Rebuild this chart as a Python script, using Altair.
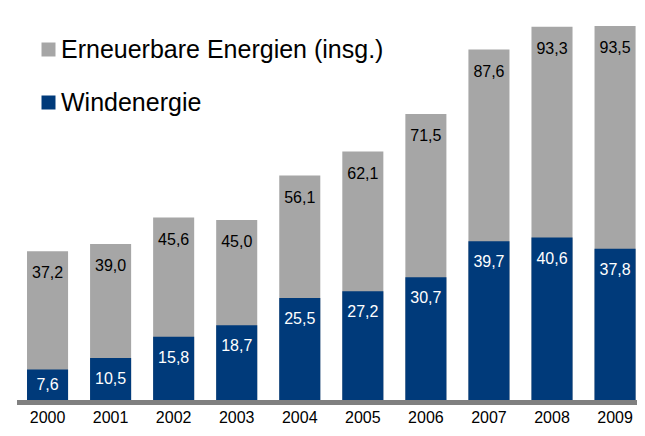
import altair as alt
import pandas as pd

years = ["2000", "2001", "2002", "2003", "2004", "2005", "2006", "2007", "2008", "2009"]
erneuerbare = [37.2, 39.0, 45.6, 45.0, 56.1, 62.1, 71.5, 87.6, 93.3, 93.5]
wind = [7.6, 10.5, 15.8, 18.7, 25.5, 27.2, 30.7, 39.7, 40.6, 37.8]
series_names = ["Erneuerbare Energien (insg.)", "Windenergie"]
series_colors = ["#a6a6a6", "#003a7a"]

rows = []
for name, vals in zip(series_names, [erneuerbare, wind]):
    for y, v in zip(years, vals):
        rows.append({"year": y, "series": name, "value": v,
                     "label": f"{v:.1f}".replace(".", ",")})
df = pd.DataFrame(rows)

FONT = "Liberation Sans"

x_scale = alt.Scale(paddingInner=0.349, paddingOuter=0.17, range=[8.3, 638.3])
x_enc = alt.X("year:O", scale=x_scale,
              axis=alt.Axis(title=None, domain=False, ticks=False, labelAngle=0,
                            labelFontSize=16, labelPadding=9, labelFont=FONT,
                            labelColor="black"))
y_scale = alt.Scale(domain=[0, 98], nice=False, zero=True)

base = alt.Chart(df)

bars = base.mark_bar().encode(
    x=x_enc,
    y=alt.Y("value:Q", scale=y_scale, axis=None, stack=None),
    color=alt.Color("series:N",
                    scale=alt.Scale(domain=series_names, range=series_colors),
                    legend=alt.Legend(title=None, orient="none", legendX=28, legendY=29,
                                      symbolType="square", symbolSize=196,
                                      symbolStrokeWidth=0, labelFontSize=25,
                                      labelFont=FONT, labelColor="black",
                                      labelOffset=0, rowPadding=27, padding=0,
                                      labelLimit=500)),
    order=alt.Order("series:N"),
)

axis_line = alt.Chart(pd.DataFrame({"a": [0]})).mark_rule(
    color="#808080", strokeWidth=5
).encode(x=alt.value(9), x2=alt.value(629), y=alt.value(394.5))

top_labels = base.transform_filter(
    alt.datum.series == series_names[0]
).mark_text(baseline="middle", dy=22, fontSize=16, font=FONT, color="black").encode(
    x=alt.X("year:O", scale=x_scale),
    y=alt.Y("value:Q", scale=y_scale),
    text="label:N",
)

wind_labels = base.transform_filter(
    alt.datum.series == series_names[1]
).transform_calculate(
    ypos="max(datum.value - 5.25, datum.value / 2)"
).mark_text(baseline="middle", fontSize=16, font=FONT, color="white").encode(
    x=alt.X("year:O", scale=x_scale),
    y=alt.Y("ypos:Q", scale=y_scale),
    text="label:N",
)

chart = alt.layer(axis_line, bars, top_labels, wind_labels).properties(
    width=629, height=392,
    autosize=alt.AutoSizeParams(type="none"),
    padding={"left": 0, "top": 0, "right": 0, "bottom": 24},
).configure_view(stroke=None)

chart.save("out.html", embed_options={"renderer": "svg", "actions": False})
